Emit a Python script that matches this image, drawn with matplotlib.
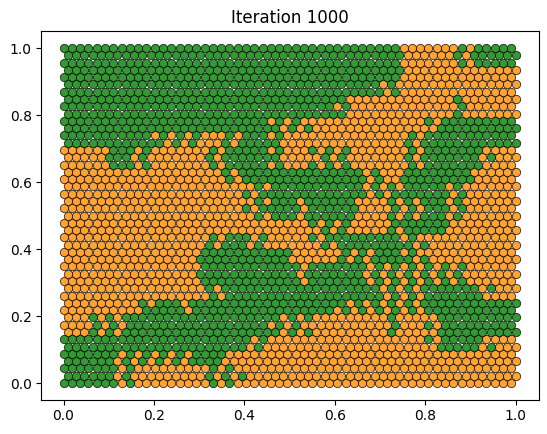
import matplotlib
matplotlib.use("Agg")
import matplotlib.pyplot as plt
import numpy as np

# colour map of the square, 20 x 20 cells of 0.05,
# top row = y 0.95..1.0; g = green, o = orange, m = mixed
# each row is written as left half (x 0..0.5) + right half (x 0.5..1)
region_rows = [
    "gggggggggg" + "gggggoomgg",
    "gggggggggg" + "gggggooooo",
    "gggggggggg" + "ggggmooooo",
    "gggggggggg" + "ggmoooomoo",
    "gggggggggm" + "mooooomggg",
    "ggggmmomgm" + "ooooomgggg",
    "oogmoomggm" + "ommoomggmo",
    "ooooooomgg" + "gggmogggoo",
    "oooooooomg" + "gggmmggmoo",
    "oooooooomg" + "mggommgmoo",
    "oooooooooo" + "ommomggooo",
    "oooooomgmo" + "omgggmoooo",
    "oooooogggg" + "oommgmoooo",
    "oooooogggg" + "mggmmmmmoo",
    "oooooomggg" + "ggggmmggmo",
    "ooomgmgggg" + "ggmmmmgggg",
    "ommggggggm" + "mooomomggg",
    "ggggggggmo" + "oooooomgmo",
    "ggmmmmgooo" + "oooooooooo",
    "ggmooommoo" + "oooooooooo",
]
colors = {"o": "darkorange", "g": "green"}
title = "Iteration 1000"


def cell_type(x, y):
    n = len(region_rows)
    row = n - 1 - min(int(y * n), n - 1)
    line = region_rows[row]
    col = min(int(x * len(line)), len(line) - 1)
    return line[col]


# staggered lattice of agents filling the unit square
nx, ny = 55, 47
pts = {"o": ([], []), "g": ([], [])}
for j in range(ny):
    for i in range(nx):
        x = (i + 0.5 * (j % 2)) / (nx - 0.5)
        y = j / (ny - 1)
        t = cell_type(x, y)
        if t == "m":
            t = "o" if (i + j) % 2 else "g"
        pts[t][0].append(x)
        pts[t][1].append(y)

fig = plt.figure(figsize=(5.47, 4.34), dpi=100)
ax = fig.add_axes([0.0757, 0.0789, 0.9089, 0.849])
for t in ("o", "g"):
    ax.plot(pts[t][0], pts[t][1], "o", markersize=6,
            markerfacecolor=colors[t], markeredgecolor="k",
            markeredgewidth=0.6, alpha=0.8)
ax.set_xlim(-0.049, 1.051)
ax.set_ylim(-0.05, 1.05)
ax.set_title(title)
fig.savefig("out.png", dpi=100)
